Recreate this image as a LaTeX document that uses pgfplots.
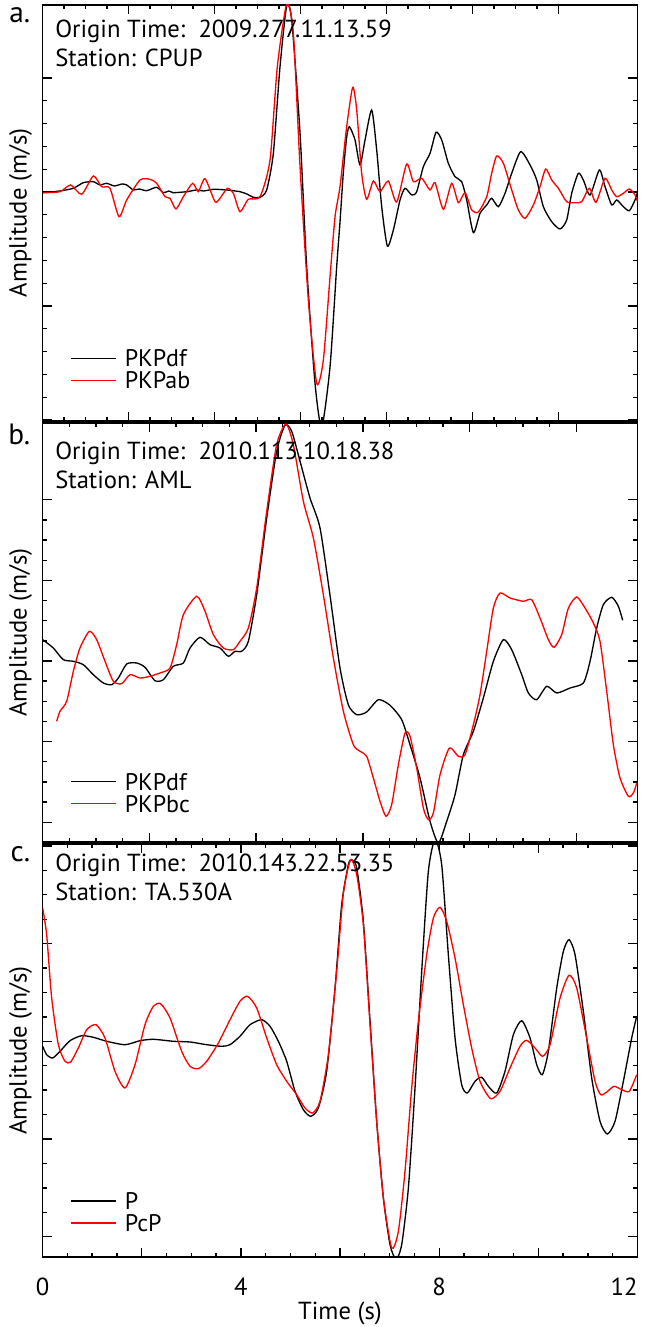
\documentclass[border=0pt]{standalone}
\usepackage{fontspec}
\setmainfont{PT Sans}
\usepackage{pgfplots}
\pgfplotsset{compat=1.18}
\definecolor{sred}{RGB}{255,0,0}
\newcommand{\infofont}{\fontsize{18.5}{18.5}\selectfont}
\newcommand{\legfont}{\fontsize{18}{18}\selectfont}
\newcommand{\lblfont}{\fontsize{22}{22}\selectfont}
\pgfplotsset{
  panel/.style={
    scale only axis, width=446.25pt, xmin=0, xmax=12,
    axis line style={line width=1.2pt},
    every tick/.style={black, line width=1pt},
    major tick length=7pt, minor tick length=3.2pt,
    tick align=inside,
    yticklabels={}, xticklabels={},
    minor x tick num=3,
    clip mode=individual,
    /pgf/number format/assume math mode=true,
    legend cell align=left,
    legend image code/.code={\draw[#1, line width=1pt] (0pt,0pt) -- (33.75pt,0pt);},
    legend style={draw=none, fill=none, at={(0,1)}, anchor=north west, xshift=21pt,
      font=\legfont, inner sep=0pt, column sep=5pt,
      nodes={inner sep=0.75pt, text height=14pt, text depth=1pt}, row sep=0pt},
  },
  blk/.style={black, line width=1pt, smooth, tension=0.4},
  rd/.style={sred, line width=1pt, smooth, tension=0.4},
}
\tikzset{
  info/.style={anchor=base west, font=\infofont, inner sep=0pt},
  plbl/.style={anchor=base east, font=\lblfont, inner sep=0pt},
  ampl/.style={rotate=90, font=\fontsize{18.5}{18.5}\selectfont, inner sep=0pt},
}
\begin{document}
\begin{tikzpicture}
\path[use as bounding box] (-31.875pt,-52.5pt) rectangle (451.875pt,942.75pt);

% ---------------- panel a ----------------
\begin{axis}[panel, at={(0pt,627pt)}, height=312pt, ymin=-229, ymax=187,
  xtick={0,1.734,3.468,5.202,6.936,8.670,10.404},
  ytick={-228,-114,0,114}, minor y tick num=4,
  legend style={yshift=-256.5pt}]
\addplot[blk] coordinates {(0.017,-0.7)(0.35,1)(0.622,3.7)(0.824,9.3)(1.025,10.3)(1.16,7)(1.294,8.7)(1.45,6)(1.6,8)(1.698,7)(1.832,2)(1.95,3)(2.101,1.3)(2.303,4.7)(2.437,-0.7)(2.55,1)(2.639,-0.7)(2.908,0.3)(3.110,2)(3.25,1)(3.446,2.7)(3.715,2)(3.983,0.3)(4.12,-2)(4.252,-5.3)(4.387,-5.3)(4.521,2)(4.656,38.7)(4.790,125.3)(4.925,186)(5.026,172)(5.194,58.7)(5.328,-74.7)(5.496,-191.3)(5.631,-235)(5.799,-174.7)(5.933,-74.7)(6.000,-30)(6.068,20)(6.135,55)(6.189,65.3)(6.303,52)(6.404,27)(6.505,52)(6.639,82)(6.740,42)(6.841,-14.7)(6.955,-54)(7.076,-38)(7.211,-8)(7.311,3.7)(7.446,-3)(7.547,0.3)(7.681,25.3)(7.816,38.7)(7.937,59.7)(8.051,52)(8.185,28.7)(8.320,15.3)(8.454,10.3)(8.555,-8)(8.690,-40.7)(8.824,-21.3)(8.959,-13)(9.059,-6.3)(9.194,-14.7)(9.328,-1.3)(9.463,18.7)(9.644,40.3)(9.833,27)(9.967,12)(10.101,-14.7)(10.270,-29.7)(10.438,-37)(10.572,-28)(10.673,-1.3)(10.807,18.7)(10.908,12)(11.043,-3)(11.231,22)(11.345,5.3)(11.480,-13)(11.581,-8)(11.715,-14.7)(11.836,-18.7)(11.950,-8)(12.0,-0.3)};
\addlegendentry{PKPdf}
\addplot[rd] coordinates {(0.017,-0.7)(0.353,0.3)(0.568,7)(0.790,-2.3)(1.025,16)(1.193,5.3)(1.361,3.7)(1.543,-24.7)(1.698,-8)(1.967,12)(2.168,12.7)(2.303,8.7)(2.471,-4.7)(2.572,-6.3)(2.693,-17)(2.841,-4.7)(3.029,8.7)(3.143,0.3)(3.278,13.3)(3.479,-9.7)(3.580,-6.3)(3.728,3.7)(3.849,-1.3)(3.983,-19.7)(4.152,-7.3)(4.387,-4.7)(4.589,32)(4.736,125.3)(4.925,188)(5.059,158.7)(5.194,25.3)(5.362,-108)(5.530,-191.3)(5.664,-168)(5.799,-84.7)(5.900,-24.7)(6.000,5.3)(6.135,65.3)(6.256,104.7)(6.337,82)(6.437,18.7)(6.538,-7.3)(6.673,11)(6.807,0.3)(6.975,11)(7.143,-10)(7.345,28)(7.480,10.3)(7.648,13.7)(7.816,2)(7.917,9.3)(8.085,-17.3)(8.253,8.7)(8.387,-10.7)(8.522,-0.7)(8.656,-18)(8.790,-20)(8.959,-4.7)(9.059,18.7)(9.160,36)(9.295,28.7)(9.463,2)(9.597,-18)(9.732,-26.3)(9.900,-13)(10.034,5.3)(10.149,23)(10.270,12)(10.404,3.7)(10.572,-9.7)(10.740,-10.7)(10.875,-9.7)(11.029,3.7)(11.164,-10.3)(11.345,13.7)(11.480,2)(11.581,-4.7)(11.715,-1.3)(11.836,3)(11.950,-3)(12.0,-9.7)};
\addlegendentry{PKPab}
\node[info] at ([xshift=9.4pt,yshift=-24.2pt]rel axis cs:0,1) {Origin Time:\ \ 2009.277.11.13.59};
\node[info] at ([xshift=9.4pt,yshift=-46.3pt]rel axis cs:0,1) {Station: CPUP};
\node[plbl] at ([xshift=-9pt,yshift=-13.5pt]rel axis cs:0,1) {a.};
\node[ampl] at ([xshift=-16.5pt]rel axis cs:0,0.5) {Amplitude (m/s)};
\end{axis}

% ---------------- panel b ----------------
\begin{axis}[panel, at={(0pt,311.25pt)}, height=314.25pt, ymin=-181, ymax=238,
  xtick={0,2.154,4.308,6.462,8.616,10.77},
  ytick={-161.2,-80.6,0,80.6,161.2}, minor y tick num=3,
  legend style={yshift=-260.5pt}]
\addplot[blk] coordinates {(0.003,21.3)(0.218,13)(0.42,1.3)(0.622,-0.3)(0.824,-3.7)(1.025,-13.7)(1.227,-22)(1.395,-23.7)(1.53,-17)(1.698,-3)(1.899,-2)(2.067,-6.3)(2.269,-19.7)(2.437,-18.7)(2.639,-5.3)(2.841,-2)(2.975,13)(3.177,23.7)(3.379,16.3)(3.58,13)(3.748,4.7)(3.883,9.7)(4.017,9.7)(4.152,19.7)(4.32,66.3)(4.522,143)(4.723,209.7)(4.891,235.7)(5.026,229.7)(5.194,199.7)(5.395,163)(5.597,133)(5.799,65.5)(6.0,-7)(6.168,-43.7)(6.337,-53.7)(6.538,-51)(6.774,-38.7)(7.009,-44.3)(7.244,-58.7)(7.412,-83.7)(7.614,-117)(7.816,-160.3)(7.984,-182)(8.152,-160.3)(8.32,-133.7)(8.488,-93.7)(8.69,-70.3)(8.891,-37)(9.093,-0.3)(9.295,21.3)(9.463,11.3)(9.665,-13.7)(9.799,-32)(9.967,-38.7)(10.169,-25.3)(10.371,-32)(10.64,-27)(10.908,-22)(11.043,-0.3)(11.177,33)(11.311,56.3)(11.48,63.7)(11.614,54.7)(11.701,40.7)};
\addlegendentry{PKPdf}
\addplot[rd] coordinates {(0.286,-60.3)(0.353,-50.3)(0.488,-40.3)(0.622,-10.3)(0.756,13)(0.945,29.7)(1.093,21.3)(1.261,-0.3)(1.429,-20.3)(1.597,-22.7)(1.765,-13.7)(1.967,-17)(2.168,-15.3)(2.37,-12)(2.572,-7)(2.706,16.3)(2.841,46.3)(3.11,64.7)(3.278,49.7)(3.446,26.3)(3.647,13)(3.849,11.3)(3.983,19.7)(4.152,33)(4.32,73)(4.522,149.7)(4.723,216.3)(4.911,237)(5.059,216.3)(5.261,159.7)(5.463,123)(5.664,66.3)(5.866,3)(6.068,-50.3)(6.269,-83.7)(6.404,-90.3)(6.538,-95.3)(6.673,-117)(6.807,-140.3)(6.928,-155.3)(7.042,-143.7)(7.177,-103.7)(7.311,-72)(7.412,-75.3)(7.547,-107)(7.681,-147)(7.782,-158.7)(7.883,-152)(8.018,-113.7)(8.206,-87)(8.387,-95.3)(8.522,-93.7)(8.69,-63.7)(8.824,-33.7)(8.959,9.7)(9.093,53)(9.227,68)(9.429,63)(9.698,59.7)(9.866,61.3)(10.034,43)(10.202,21.3)(10.317,13.7)(10.471,26.3)(10.606,53)(10.774,64)(10.942,53)(11.11,38)(11.244,19.7)(11.379,-30.3)(11.513,-83.7)(11.648,-117)(11.816,-135.3)(11.917,-132)(11.984,-122)};
\addlegendentry{PKPbc}
\node[info] at ([xshift=9.4pt,yshift=-27.5pt]rel axis cs:0,1) {Origin Time:\ \ 2010.113.10.18.38};
\node[info] at ([xshift=9.4pt,yshift=-49.3pt]rel axis cs:0,1) {Station: AML};
\node[plbl] at ([xshift=-9pt,yshift=-16.5pt]rel axis cs:0,1) {b.};
\node[ampl] at ([xshift=-16.5pt]rel axis cs:0,0.5) {Amplitude (m/s)};
\end{axis}

% ---------------- panel c ----------------
\begin{axis}[panel, at={(0pt,0pt)}, height=309.75pt, ymin=-215.7, ymax=197.3,
  xtick={0,2,4,6,8,10,12}, xticklabels={0,,4,,8,,{\makebox[0pt][r]{12}}},
  xticklabel style={font=\fontsize{18.5}{18.5}\selectfont, anchor=base, yshift=-28.5pt},
  xlabel={Time (s)},
  xlabel style={font=\fontsize{18.5}{18.5}\selectfont, at={(rel axis cs:0.5,0)}, anchor=base, yshift=-47pt},
  ytick={-195.4,-97.7,0,97.7,195.4}, minor y tick num=3,
  legend style={yshift=-259.25pt}]
\addplot[blk] coordinates {(0.003,-5)(0.084,-13.4)(0.205,-16.7)(0.353,-10)(0.555,0.6)(0.79,5.6)(1.025,4)(1.294,0)(1.664,-3.4)(1.967,0.6)(2.235,2)(2.639,0)(2.975,-0.7)(3.311,-3.4)(3.614,-5)(3.782,-3.4)(3.983,5)(4.185,16.6)(4.42,21.6)(4.589,15)(4.757,0)(4.925,-20)(5.093,-50)(5.261,-68.4)(5.409,-75)(5.563,-66.7)(5.731,-30)(5.9,53.3)(6.034,136.6)(6.168,176.6)(6.236,181.6)(6.337,173.3)(6.471,120)(6.606,20)(6.74,-80)(6.875,-156.7)(7.009,-203.4)(7.13,-218)(7.244,-203.4)(7.379,-146.7)(7.513,-46.7)(7.648,70)(7.782,170)(7.917,202)(8.051,176.6)(8.185,86.6)(8.32,3.3)(8.454,-43.4)(8.568,-51.7)(8.723,-40)(8.858,-36)(8.992,-45)(9.16,-51.7)(9.328,-30)(9.496,6.6)(9.665,20.6)(9.833,3.3)(9.967,-23.4)(10.081,-33.4)(10.202,-10)(10.371,53.3)(10.505,90)(10.619,101.6)(10.74,86.6)(10.908,30)(11.076,-36.7)(11.244,-80)(11.392,-92.7)(11.547,-80)(11.715,-40)(11.883,3.3)(11.984,25)};
\addlegendentry{P}
\addplot[rd] coordinates {(0.003,133.3)(0.084,106.6)(0.185,43.3)(0.32,-3.4)(0.454,-20)(0.568,-20.7)(0.723,-6.7)(0.891,11.6)(1.079,16.6)(1.261,3.3)(1.462,-30)(1.664,-46.7)(1.866,-23.4)(2.067,16.6)(2.235,35)(2.383,37.6)(2.572,23.3)(2.807,-10)(2.975,-25)(3.143,-27.4)(3.311,-20)(3.547,-1.7)(3.782,21.6)(3.983,40)(4.138,45)(4.32,33.3)(4.522,3.3)(4.723,-23.4)(4.925,-40)(5.126,-53.4)(5.294,-66.7)(5.449,-71.7)(5.597,-60)(5.765,-13.4)(5.933,70)(6.068,148)(6.215,181.6)(6.337,166.6)(6.471,116.6)(6.606,16.6)(6.74,-80)(6.875,-156.7)(7.042,-206.7)(7.177,-190)(7.311,-130)(7.446,-46.7)(7.58,20)(7.749,86.6)(7.883,123.3)(8.018,134)(8.152,120)(8.32,83.3)(8.488,36.6)(8.656,-6.7)(8.824,-40)(9.039,-57.4)(9.227,-50)(9.429,-26.7)(9.631,-5)(9.765,1)(9.933,-6.7)(10.087,-15)(10.236,-3.4)(10.438,43.3)(10.619,66)(10.774,53.3)(10.975,3.3)(11.144,-40)(11.258,-53.4)(11.379,-50.7)(11.527,-45)(11.681,-48.4)(11.836,-50)(11.984,-33.4)};
\addlegendentry{PcP}
\node[info] at ([xshift=9.4pt,yshift=-20.5pt]rel axis cs:0,1) {Origin Time:\ \ 2010.143.22.53.35};
\node[info] at ([xshift=9.4pt,yshift=-42.2pt]rel axis cs:0,1) {Station: TA.530A};
\node[plbl] at ([xshift=-9pt,yshift=-13.5pt]rel axis cs:0,1) {c.};
\node[ampl] at ([xshift=-16.5pt]rel axis cs:0,0.5) {Amplitude (m/s)};
\end{axis}
\end{tikzpicture}
\end{document}
